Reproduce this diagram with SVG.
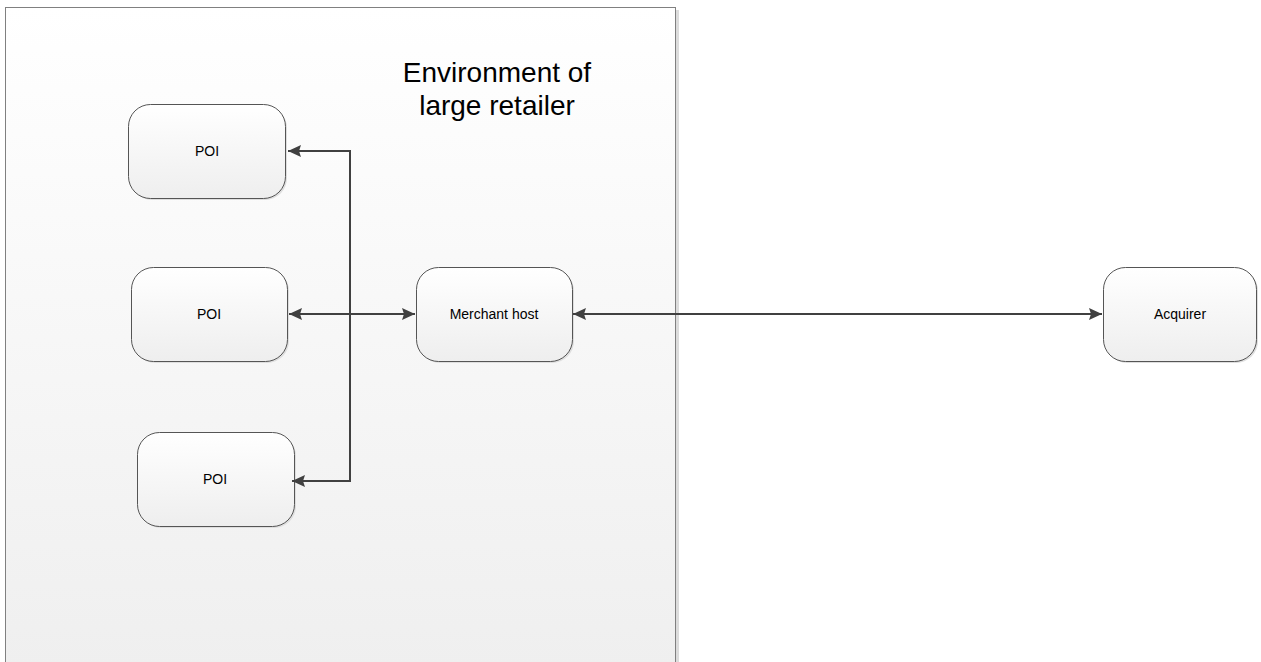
<svg xmlns="http://www.w3.org/2000/svg" width="1261" height="662" viewBox="0 0 1261 662">
<defs>
<linearGradient id="bg" x1="0" y1="0" x2="0" y2="1">
<stop offset="0" stop-color="#ffffff"/>
<stop offset="1" stop-color="#efefef"/>
</linearGradient>
<linearGradient id="ng" x1="0" y1="0" x2="0" y2="1">
<stop offset="0" stop-color="#ffffff"/>
<stop offset="1" stop-color="#eeeeee"/>
</linearGradient>
<marker id="ah" viewBox="0 0 13 12" refX="13" refY="6" markerWidth="13" markerHeight="12" markerUnits="userSpaceOnUse" orient="auto-start-reverse">
<path d="M0,0 L13,6 L0,12 L2,6 Z" fill="#404040"/>
</marker>
<style>
.node rect.s{fill:#dedede;}
.node rect.b{fill:url(#ng);stroke:#555555;stroke-width:1;}
.node text{font-family:"Liberation Sans",Arial,sans-serif;font-size:14px;fill:#000;text-anchor:middle;}
.conn path{fill:none;stroke:#404040;stroke-width:2;}
.title{font-family:"Liberation Sans",Arial,sans-serif;font-size:28px;fill:#000;text-anchor:middle;}
</style>
</defs>
<rect width="1261" height="662" fill="#ffffff"/>
<g id="environment">
<rect x="8" y="10" width="671" height="660" fill="#dcdcdc"/>
<rect x="5.5" y="7.5" width="670" height="660" fill="url(#bg)" stroke="#808080" stroke-width="1"/>
<text class="title" x="497" y="82">Environment of</text>
<text class="title" x="497" y="115">large retailer</text>
</g>
<g id="poi1" class="node">
<rect class="s" x="130" y="106" width="157" height="94" rx="22"/>
<rect class="b" x="128.5" y="104.5" width="157" height="94" rx="22"/>
<text x="207" y="156">POI</text>
</g>
<g id="poi2" class="node">
<rect class="s" x="133" y="269" width="156" height="94" rx="22"/>
<rect class="b" x="131.5" y="267.5" width="156" height="94" rx="22"/>
<text x="209" y="319">POI</text>
</g>
<g id="poi3" class="node">
<rect class="s" x="139" y="434" width="157" height="94" rx="22"/>
<rect class="b" x="137.5" y="432.5" width="157" height="94" rx="22"/>
<text x="215" y="484">POI</text>
</g>
<g id="merchant" class="node">
<rect class="s" x="418" y="269" width="156" height="94" rx="22"/>
<rect class="b" x="416.5" y="267.5" width="156" height="94" rx="22"/>
<text x="494" y="319">Merchant host</text>
</g>
<g id="acquirer" class="node">
<rect class="s" x="1105" y="269" width="153" height="94" rx="22"/>
<rect class="b" x="1103.5" y="267.5" width="153" height="94" rx="22"/>
<text x="1180" y="319">Acquirer</text>
</g>
<g id="connectors" class="conn">
<path d="M350,314 L350,151 L288,151" marker-end="url(#ah)"/>
<path d="M350,314 L350,481 L292,481" marker-end="url(#ah)"/>
<path d="M289,314 L415,314" marker-start="url(#ah)" marker-end="url(#ah)"/>
<path d="M573,314 L1102,314" marker-start="url(#ah)" marker-end="url(#ah)"/>
</g>
</svg>
